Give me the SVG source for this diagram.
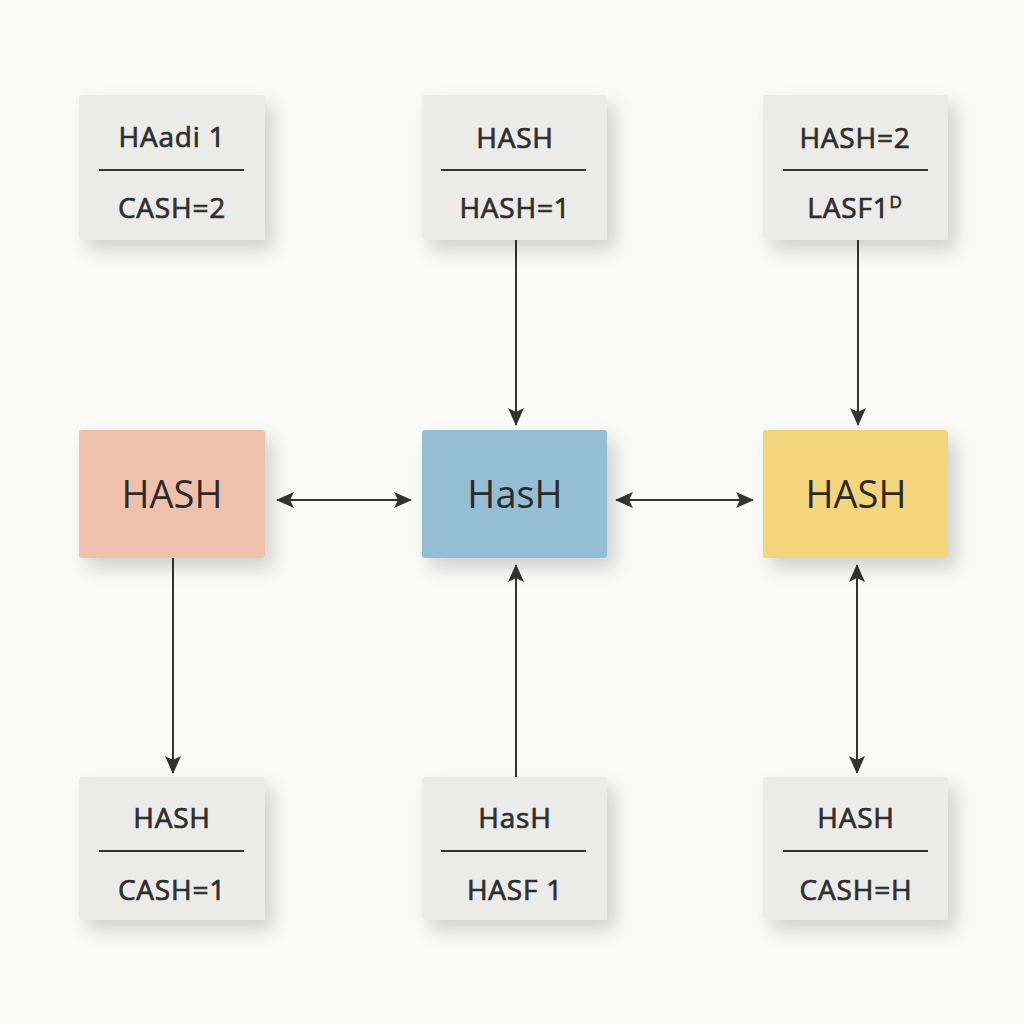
<svg xmlns="http://www.w3.org/2000/svg" width="1024" height="1024" viewBox="0 0 1024 1024">
<defs>
<filter id="sh" x="-25%" y="-25%" width="160%" height="160%">
<feDropShadow dx="8" dy="10" stdDeviation="9" flood-color="#000" flood-opacity="0.17"/>
</filter>
<marker id="ah" viewBox="0 0 18 16" refX="17" refY="8" markerWidth="18" markerHeight="16" markerUnits="userSpaceOnUse" orient="auto-start-reverse">
<path d="M0,0 L18,8 L0,16 L4,8 Z" fill="#333"/>
</marker>
<style>
.card{fill:#ebebea;filter:url(#sh)}
.t{font-family:"Open Sans","Noto Sans",sans-serif;font-size:28px;font-weight:400;letter-spacing:0.8px;fill:#2e2e2e;stroke:#2e2e2e;stroke-width:0.7px;text-anchor:middle}
.big{font-family:"Open Sans","Noto Sans",sans-serif;font-size:38px;font-weight:400;fill:#2a2a2a;text-anchor:middle}
.div{stroke:#333;stroke-width:2}
.c{stroke:#333;stroke-width:2;fill:none}
</style>
</defs>
<rect width="1024" height="1024" fill="#fafaf8"/>
<g id="connectors">
<line class="c" x1="516" y1="240" x2="516" y2="425" marker-end="url(#ah)"/>
<line class="c" x1="858" y1="240" x2="858" y2="425" marker-end="url(#ah)"/>
<line class="c" x1="277" y1="500" x2="411" y2="500" marker-start="url(#ah)" marker-end="url(#ah)"/>
<line class="c" x1="616" y1="500" x2="753" y2="500" marker-start="url(#ah)" marker-end="url(#ah)"/>
<line class="c" x1="173" y1="558" x2="173" y2="773" marker-end="url(#ah)"/>
<line class="c" x1="516" y1="777" x2="516" y2="565" marker-end="url(#ah)"/>
<line class="c" x1="857" y1="565" x2="857" y2="773" marker-start="url(#ah)" marker-end="url(#ah)"/>
</g>
<g id="top-left">
<rect class="card" x="79" y="95" width="186" height="145" rx="3"/>
<text class="t" x="172" y="147">HAadi 1</text>
<line class="div" x1="99" y1="170" x2="244" y2="170"/>
<text class="t" x="172" y="218">CASH=2</text>
</g>
<g id="top-middle">
<rect class="card" x="422" y="95" width="185" height="145" rx="3"/>
<text class="t" x="515" y="148">HASH</text>
<line class="div" x1="441" y1="170" x2="586" y2="170"/>
<text class="t" x="515" y="218">HASH=1</text>
</g>
<g id="top-right">
<rect class="card" x="763" y="95" width="185" height="145" rx="3"/>
<text class="t" x="855" y="148">HASH=2</text>
<line class="div" x1="783" y1="170" x2="928" y2="170"/>
<text class="t" x="855" y="218">LASF1<tspan font-size="17" dy="-10">D</tspan></text>
</g>
<g id="mid-left">
<rect x="79" y="430" width="186" height="128" rx="3" fill="#f0c1aa" filter="url(#sh)"/>
<text class="big" x="172" y="508">HASH</text>
</g>
<g id="mid-center">
<rect x="422" y="430" width="185" height="128" rx="3" fill="#95bdd3" filter="url(#sh)"/>
<text class="big" x="515" y="508">HasH</text>
</g>
<g id="mid-right">
<rect x="763" y="430" width="185" height="128" rx="3" fill="#f3d57c" filter="url(#sh)"/>
<text class="big" x="856" y="508">HASH</text>
</g>
<g id="bottom-left">
<rect class="card" x="79" y="777" width="186" height="143" rx="3"/>
<text class="t" x="172" y="828">HASH</text>
<line class="div" x1="99" y1="851" x2="244" y2="851"/>
<text class="t" x="172" y="900">CASH=1</text>
</g>
<g id="bottom-middle">
<rect class="card" x="422" y="777" width="185" height="143" rx="3"/>
<text class="t" x="515" y="828">HasH</text>
<line class="div" x1="441" y1="851" x2="586" y2="851"/>
<text class="t" x="515" y="900">HASF 1</text>
</g>
<g id="bottom-right">
<rect class="card" x="763" y="777" width="185" height="143" rx="3"/>
<text class="t" x="856" y="828">HASH</text>
<line class="div" x1="783" y1="851" x2="928" y2="851"/>
<text class="t" x="856" y="900">CASH=H</text>
</g>
</svg>
